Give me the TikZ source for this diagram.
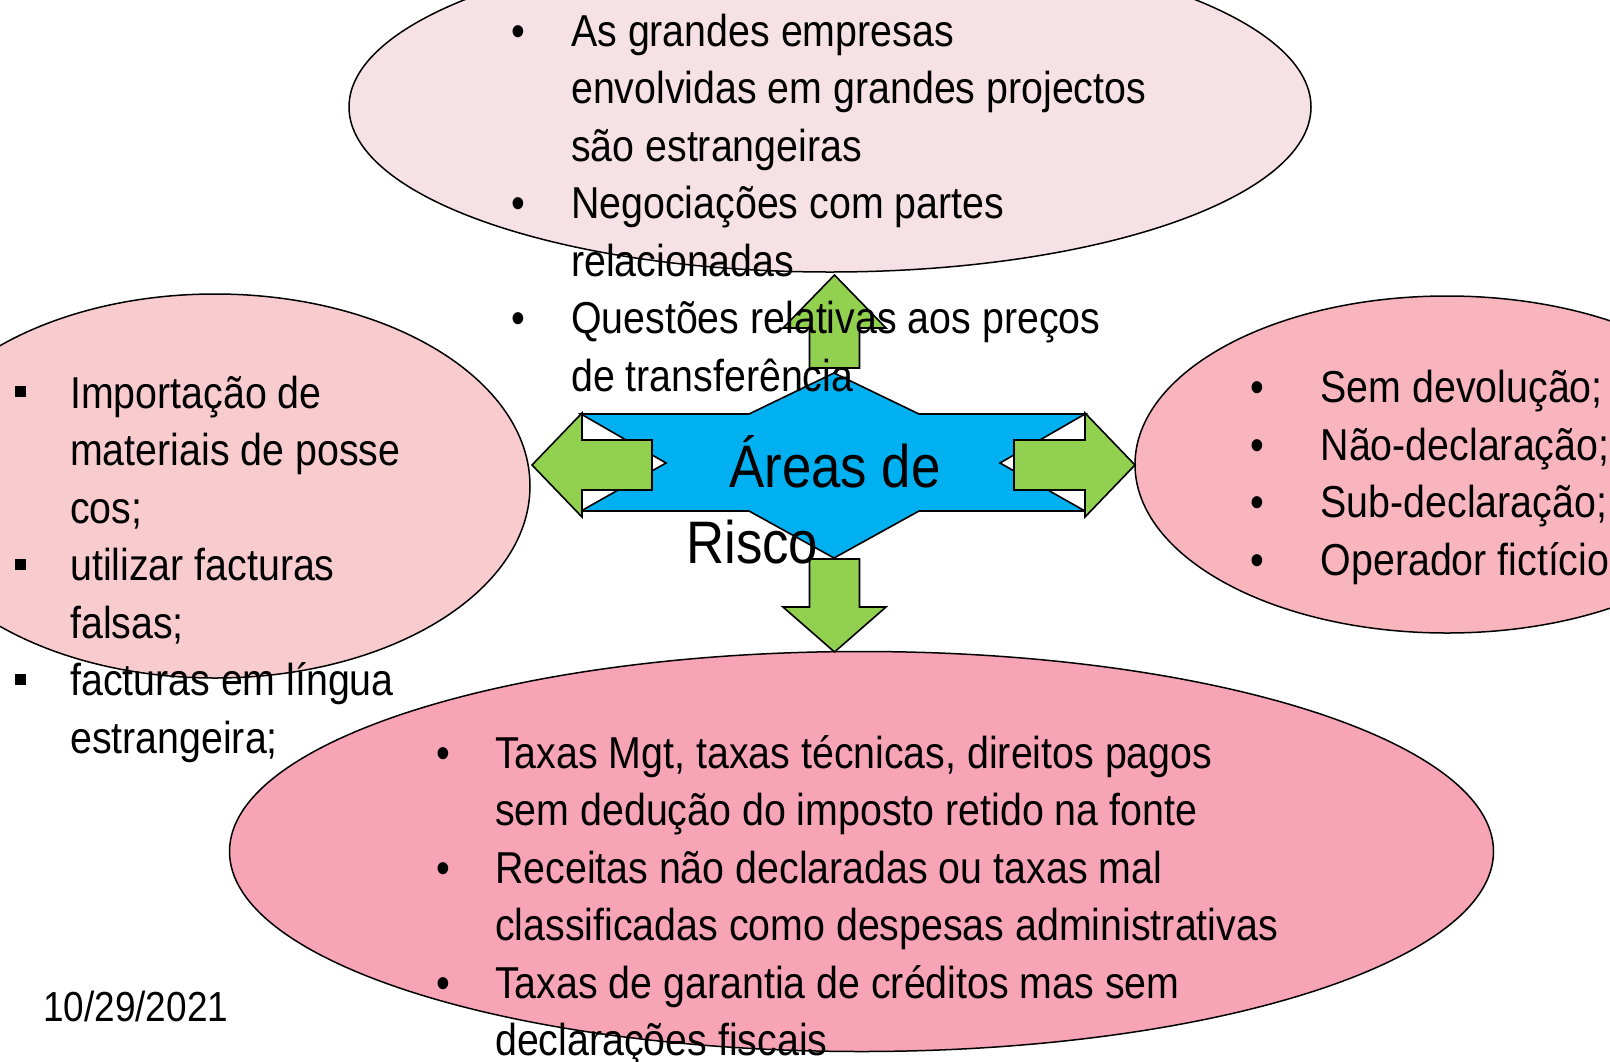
\documentclass[tikz,border=0pt]{standalone}
\usepackage{fontspec}
\setmainfont{Liberation Sans}[FakeStretch=0.88]
\usetikzlibrary{shapes.geometric}
\definecolor{topfill}{HTML}{F6E1E6}
\definecolor{leftfill}{HTML}{F8CCCF}
\definecolor{rightfill}{HTML}{F9B5BE}
\definecolor{botfill}{HTML}{F7A4B6}
\definecolor{arrgreen}{HTML}{92D050}
\definecolor{crossblue}{HTML}{00B0F0}
\newlength\bw
\newcommand\bul{\makebox[\bw][l]{\makebox[0pt]{\textbullet}}}
\newcommand\sqb{\makebox[\bw][l]{\makebox[0pt]{\rule[11pt]{11pt}{11pt}}}}
\newcommand\ind{\hspace*{\bw}}
\begin{document}
\begin{tikzpicture}[x=1pt,y=-1pt,
  oval/.style={ellipse,draw=black,line width=1.5pt,inner sep=0pt},
  greenarrow/.style={fill=arrgreen,draw=black,line width=1.6pt,line join=miter},
  txt/.style={anchor=base west,inner sep=0pt,font=\fontsize{44.7}{57.5}\selectfont}]
\useasboundingbox (0,0) rectangle (1610,1061);
\clip (0,0) rectangle (1610,1061);
% ellipses
\node[oval,fill=topfill,minimum width=962pt,minimum height=330pt] (topE) at (830,107) {};
\node[oval,fill=leftfill,minimum width=630pt,minimum height=384pt] (leftE) at (215,486) {};
\node[oval,fill=rightfill,minimum width=624pt,minimum height=337pt] (rightE) at (1447,464.5) {};
\node[oval,fill=botfill,minimum width=1264pt,minimum height=400pt] (botE) at (861.5,851.5) {};
% central blue shape
\draw[fill=crossblue,draw=black,line width=1.6pt]
  (581,414) -- (749,414) -- (834,373) -- (919,414) -- (1085,414) -- (1000,463)
  -- (1085,511) -- (919,511) -- (834,558) -- (749,511) -- (581,511) -- (666,463) -- cycle;
% green arrows
\draw[greenarrow] (532,465) -- (582,413) -- (582,440) -- (652,440) -- (652,490) -- (582,490) -- (582,517) -- cycle;
\draw[greenarrow] (1135,465) -- (1085,413) -- (1085,440) -- (1014,440) -- (1014,490) -- (1085,490) -- (1085,517) -- cycle;
\draw[greenarrow] (834.5,275) -- (886,328) -- (859.5,328) -- (859.5,368) -- (809.5,368) -- (809.5,328) -- (783,328) -- cycle;
\draw[greenarrow] (834.5,652) -- (886,607) -- (859.5,607) -- (859.5,559) -- (809.5,559) -- (809.5,607) -- (783,607) -- cycle;
% texts
\node[txt] (topT) at (518.5,46) {\setlength\bw{52.5pt}\begin{tabular}[t]{@{}l@{}}
\bul As grandes empresas\\
\ind envolvidas em grandes projectos\\
\ind são estrangeiras\\
\bul Negociações com partes\\
\ind relacionadas\\
\bul Questões relativas aos preços\\
\ind de transferência
\end{tabular}};
\node[txt] (leftT) at (20.5,408) {\setlength\bw{49.5pt}\begin{tabular}[t]{@{}l@{}}
\sqb Importação de\\
\ind materiais de posse\\
\ind cos;\\
\sqb utilizar facturas\\
\ind falsas;\\
\sqb facturas em língua\\
\ind estrangeira;
\end{tabular}};
\node[txt] (rightT) at (1257,402.5) {\setlength\bw{63.5pt}\begin{tabular}[t]{@{}l@{}}
\bul Sem devolução;\\
\bul Não-declaração;\\
\bul Sub-declaração;\\
\bul Operador fictício
\end{tabular}};
\node[txt] (botT) at (443.5,768) {\setlength\bw{51.5pt}\begin{tabular}[t]{@{}l@{}}
\bul Taxas Mgt, taxas técnicas, direitos pagos\\
\ind sem dedução do imposto retido na fonte\\
\bul Receitas não declaradas ou taxas mal\\
\ind classificadas como despesas administrativas\\
\bul Taxas de garantia de créditos mas sem\\
\ind declarações fiscais
\end{tabular}};
\node[anchor=base west,inner sep=0pt,font=\fontsize{60}{76}\selectfont] (center) at (686,487)
  {\begin{tabular}[t]{@{}l@{}}\hspace*{43pt}Áreas de\\ Risco\end{tabular}};
\node[anchor=base west,inner sep=0pt,font=\fontsize{42}{49}\selectfont] (date) at (43,1021) {10/29/2021};
\end{tikzpicture}
\end{document}
